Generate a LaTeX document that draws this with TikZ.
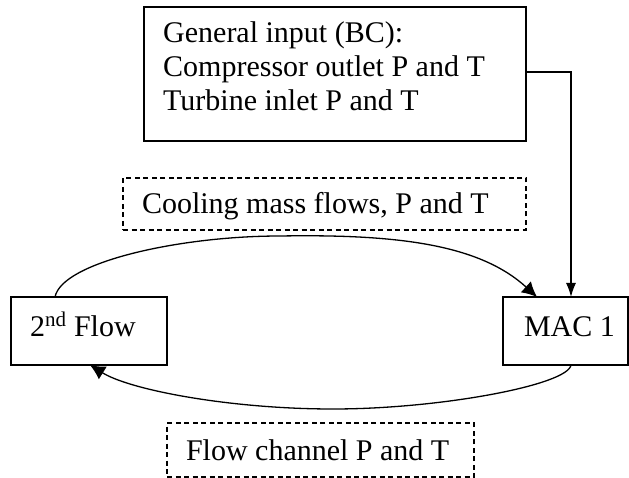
\documentclass[tikz,border=0pt]{standalone}
\usepackage{fontspec}
\setmainfont{Liberation Serif}
\usetikzlibrary{arrows.meta}
\begin{document}
\begin{tikzpicture}[x=1pt,y=-1pt,
  font=\fontsize{30}{34}\selectfont,
  solidbox/.style={draw, line width=1.4pt, outer sep=0pt},
  dashbox/.style={draw, line width=1.2pt, dash pattern=on 5pt off 3.5pt, outer sep=0pt},
  conn/.style={line width=1.3pt},
  bigtip/.style={-{Latex[length=15pt,width=15pt]}},
  smalltip/.style={-{Latex[length=14pt,width=10pt]}}]
\useasboundingbox (0,0) rectangle (629,478);
% top input box
\node[solidbox, minimum width=382pt, minimum height=134pt, inner sep=0pt, anchor=north west] (gen) at (144,7) {};
\node[anchor=base west, inner sep=0pt] (gentext) at (163,42.5)
  {\begin{tabular}[t]{@{}l@{}}General input (BC):\\Compressor outlet P and T\\Turbine inlet P and T\end{tabular}};
% dashed label boxes
\node[dashbox, inner xsep=19pt, inner ysep=16pt, text height=20pt, text depth=0pt] (cool) at (324.5,204) {\makebox[365pt][l]{Cooling mass flows, P and T}};
\node[dashbox, inner xsep=19pt, inner ysep=17pt, text height=20pt, text depth=0pt] (chan) at (320.5,450) {\makebox[269pt][l]{Flow channel P and T}};
% main boxes
\node[solidbox, inner xsep=19pt, inner ysep=19pt, text height=20pt, text depth=10pt] (flow) at (89,331) {\makebox[118pt][l]{2\textsuperscript{nd} Flow}};
\node[solidbox, inner xsep=21pt, inner ysep=19pt, text height=20pt, text depth=10pt] (mac) at (565.5,331) {\makebox[83pt][l]{MAC 1}};
% connectors
\draw[conn, smalltip] ([yshift=2pt]gen.east) -| ([xshift=5.5pt]mac.north);
\coordinate (toppeak) at (280,236);
\coordinate (botlow) at (333,409);
\draw[conn, bigtip] ([xshift=-34pt]flow.north) .. controls (62,262) and (180,236) .. (toppeak)
  .. controls (400,234) and (480,245) .. ([xshift=-28.5pt]mac.north);
\draw[conn, bigtip] ([xshift=5.5pt]mac.south) .. controls (568,385) and (440,409) .. (botlow)
  .. controls (230,409) and (130,390) .. ([xshift=1pt]flow.south);
\end{tikzpicture}
\end{document}
